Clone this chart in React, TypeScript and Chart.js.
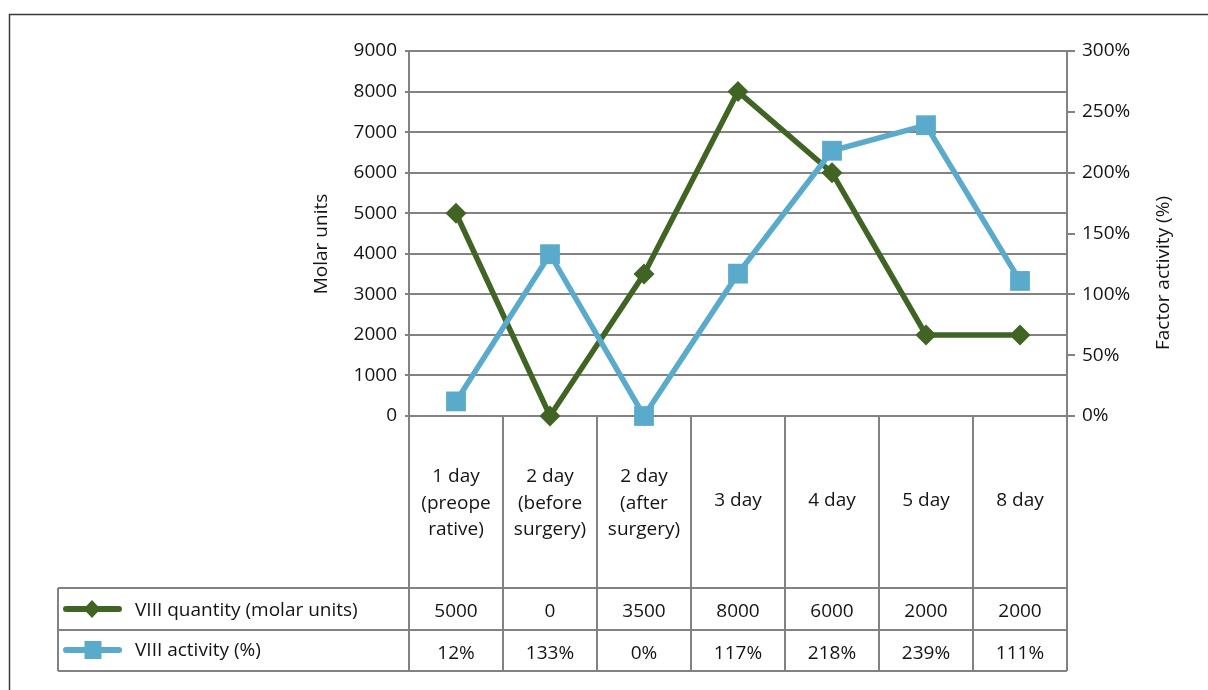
import React, { useEffect, useRef } from 'react';
import { Chart, registerables } from 'chart.js';

Chart.register(...registerables);

// ---- data ----
const categoryLines: string[][] = [
  ['1 day', '(preope', 'rative)'],
  ['2 day', '(before', 'surgery)'],
  ['2 day', '(after', 'surgery)'],
  ['3 day'],
  ['4 day'],
  ['5 day'],
  ['8 day'],
];
const quantityValues = [5000, 0, 3500, 8000, 6000, 2000, 2000];
const activityValues = [12, 133, 0, 117, 218, 239, 111];
const quantityLabel = 'VIII quantity (molar units)';
const activityLabel = 'VIII activity (%)';
const leftAxisTitle = 'Molar units';
const rightAxisTitle = 'Factor activity (%)';
const leftAxisMax = 9000;
const leftAxisStep = 1000;
const rightAxisMax = 300;
const rightAxisStep = 50;

// ---- styles ----
const GREEN = '#3f6424';
const BLUE = '#5aabcb';
const GRID = '#828282';
const TEXT = '#141414';
const FONT = '"Open Sans", "Noto Sans", sans-serif';
const FS = 19;

const tablePlugin = {
  id: 'tableAndFrame',
  afterDraw(chart: any) {
    const ctx = chart.ctx as CanvasRenderingContext2D;
    const area = chart.chartArea;
    const n = categoryLines.length;
    const colW = (area.right - area.left) / n;
    const xs = chart.scales.x;
    const row1Top = 588;
    const row2Top = 630;
    const tableBottom = 671;
    const tableLeft = 58;

    ctx.save();
    // outer frame (clipped on right / bottom)
    ctx.strokeStyle = '#3a3a3a';
    ctx.lineWidth = 1.5;
    ctx.beginPath();
    ctx.moveTo(9.5, 690);
    ctx.lineTo(9.5, 14.5);
    ctx.lineTo(1208, 14.5);
    ctx.stroke();

    // table lines
    ctx.strokeStyle = GRID;
    ctx.lineWidth = 2;
    ctx.beginPath();
    for (let i = 0; i <= n; i++) {
      const x = area.left + i * colW;
      ctx.moveTo(x, area.bottom);
      ctx.lineTo(x, tableBottom);
    }
    [row1Top, row2Top, tableBottom].forEach((y) => {
      ctx.moveTo(tableLeft, y);
      ctx.lineTo(area.right, y);
    });
    ctx.moveTo(tableLeft, row1Top);
    ctx.lineTo(tableLeft, tableBottom);
    ctx.stroke();

    // category labels
    ctx.fillStyle = TEXT;
    ctx.font = `${FS}px ${FONT}`;
    ctx.textAlign = 'center';
    ctx.textBaseline = 'middle';
    const midY = (area.bottom + row1Top) / 2;
    const lh = 26.5;
    categoryLines.forEach((lines, i) => {
      const cx = xs.getPixelForValue(i);
      const centre = lines.length > 1 ? midY + 1.5 : midY - 1;
      const start = centre - ((lines.length - 1) * lh) / 2;
      lines.forEach((t, j) => ctx.fillText(t, cx, start + j * lh));
    });

    // values
    quantityValues.forEach((v, i) => {
      ctx.fillText(String(v), xs.getPixelForValue(i), 612);
    });
    activityValues.forEach((v, i) => {
      ctx.fillText(v + '%', xs.getPixelForValue(i), 654);
    });

    // legend symbols
    ctx.lineCap = 'round';
    ctx.lineWidth = 6;
    ctx.strokeStyle = GREEN;
    ctx.beginPath();
    ctx.moveTo(66, 609);
    ctx.lineTo(119, 609);
    ctx.stroke();
    ctx.fillStyle = GREEN;
    ctx.beginPath();
    ctx.moveTo(92, 600);
    ctx.lineTo(100.5, 609);
    ctx.lineTo(92, 618);
    ctx.lineTo(83.5, 609);
    ctx.closePath();
    ctx.fill();

    ctx.strokeStyle = BLUE;
    ctx.beginPath();
    ctx.moveTo(66, 650);
    ctx.lineTo(119, 650);
    ctx.stroke();
    ctx.fillStyle = BLUE;
    ctx.fillRect(84.5, 641, 17, 18);

    // legend text
    ctx.fillStyle = TEXT;
    ctx.textAlign = 'left';
    ctx.fillText(quantityLabel, 135, 611);
    ctx.fillText(activityLabel, 135, 651);

    // axis titles
    ctx.textAlign = 'center';
    ctx.save();
    ctx.translate(322, 244);
    ctx.rotate(-Math.PI / 2);
    ctx.fillText(leftAxisTitle, 0, 0);
    ctx.restore();
    ctx.save();
    ctx.translate(1164, 273);
    ctx.rotate(-Math.PI / 2);
    ctx.fillText(rightAxisTitle, 0, 0);
    ctx.restore();

    ctx.restore();
  },
};

export default function App() {
  const ref = useRef<HTMLCanvasElement | null>(null);

  useEffect(() => {
    document.body.style.margin = '0';
    const canvas = ref.current;
    if (!canvas) return;
    const chart = new Chart(canvas, {
      type: 'line',
      data: {
        labels: categoryLines.map((l) => l.join(' ')),
        datasets: [
          {
            label: activityLabel,
            data: activityValues,
            yAxisID: 'y1',
            borderColor: BLUE,
            backgroundColor: BLUE,
            borderWidth: 5.5,
            pointStyle: 'rect',
            pointRadius: 14,
            pointBorderWidth: 0,
            pointHoverRadius: 14,
            tension: 0,
            clip: false,
            order: 0,
          },
          {
            label: quantityLabel,
            data: quantityValues,
            yAxisID: 'y',
            borderColor: GREEN,
            backgroundColor: GREEN,
            borderWidth: 5.5,
            pointStyle: 'rectRot',
            pointRadius: 10.5,
            pointBorderWidth: 0,
            pointHoverRadius: 10.5,
            tension: 0,
            clip: false,
            order: 1,
          },
        ],
      },
      options: {
        responsive: false,
        animation: false,
        events: [],
        layout: { padding: { left: 0, right: 0, top: 51, bottom: 274 } },
        plugins: {
          legend: { display: false },
          tooltip: { enabled: false },
          title: { display: false },
        },
        scales: {
          x: { display: false, offset: true },
          y: {
            position: 'left',
            min: 0,
            max: leftAxisMax,
            afterFit: (s: any) => {
              s.width = 409;
            },
            ticks: {
              stepSize: leftAxisStep,
              padding: 8,
              color: TEXT,
              font: { family: FONT, size: FS },
              callback: (v: any) => String(v),
            },
            grid: { color: GRID, lineWidth: 2, tickLength: 4, drawTicks: true },
            border: { color: GRID, width: 2 },
          },
          y1: {
            position: 'right',
            min: 0,
            max: rightAxisMax,
            afterFit: (s: any) => {
              s.width = 1208 - 1067;
            },
            ticks: {
              stepSize: rightAxisStep,
              padding: 7,
              color: TEXT,
              font: { family: FONT, size: FS },
              callback: (v: any) => v + '%',
            },
            grid: { drawOnChartArea: false, color: GRID, lineWidth: 2, tickLength: 8 },
            border: { color: GRID, width: 2 },
          },
        },
      },
      plugins: [tablePlugin],
    });
    return () => chart.destroy();
  }, []);

  return (
    <div style={{ width: 1208, height: 690, background: '#fff' }}>
      <canvas ref={ref} width={1208} height={690} style={{ display: 'block' }} />
    </div>
  );
}
